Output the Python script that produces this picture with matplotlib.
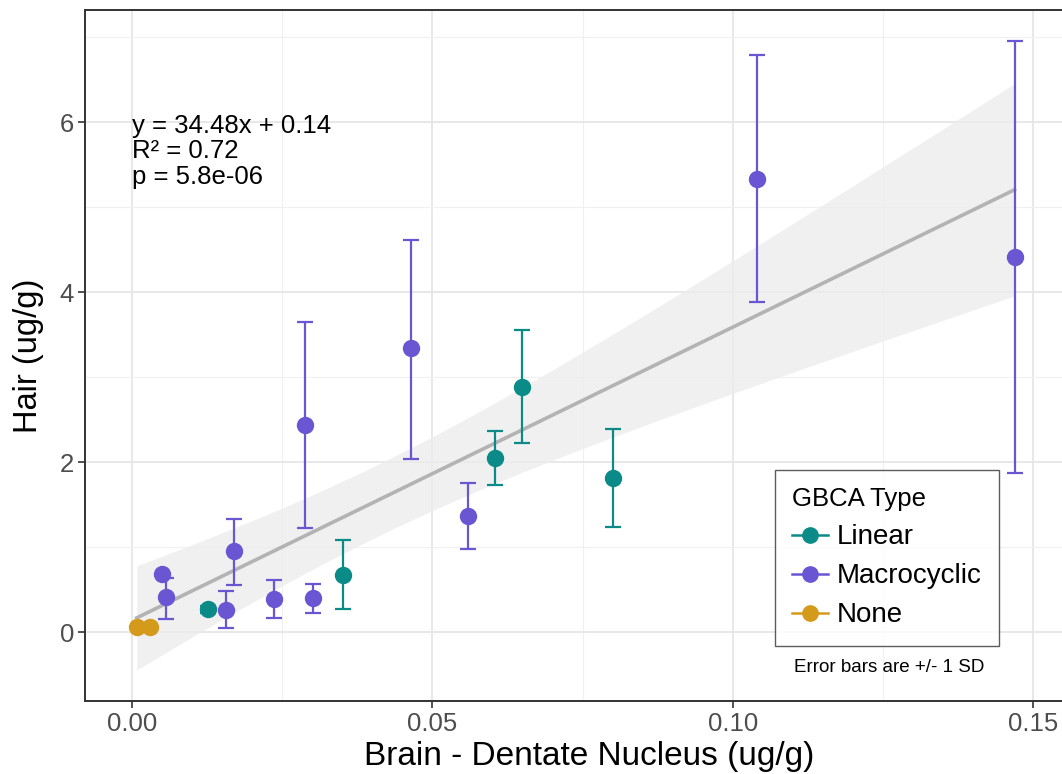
import numpy as np
import matplotlib.pyplot as plt
from matplotlib.lines import Line2D

plt.rcParams['font.family'] = ['Liberation Sans', 'DejaVu Sans']

# GBCA groups: brain (x), hair mean (y), hair error bar ends
linear_x = [0.0126, 0.0351, 0.0605, 0.0650, 0.0800]
linear_y = [0.27, 0.67, 2.05, 2.89, 1.81]
linear_lo = [0.23, 0.27, 1.73, 2.23, 1.24]
linear_hi = [0.31, 1.09, 2.37, 3.55, 2.39]

macro_x = [0.0050, 0.0057, 0.0156, 0.0170, 0.0237, 0.0288, 0.0301, 0.0464, 0.0559, 0.1040, 0.1469]
macro_y = [0.69, 0.41, 0.26, 0.95, 0.39, 2.44, 0.40, 3.34, 1.37, 5.33, 4.41]
macro_lo = [0.69, 0.16, 0.05, 0.56, 0.17, 1.22, 0.22, 2.04, 0.98, 3.88, 1.87]
macro_hi = [0.69, 0.64, 0.49, 1.33, 0.61, 3.65, 0.57, 4.61, 1.75, 6.79, 6.95]

none_x = [0.0008, 0.0030]
none_y = [0.055, 0.06]

colors = {"Linear": "#0b8b88", "Macrocyclic": "#6a55d2", "None": "#d49a1c"}

fig = plt.figure(figsize=(10.62, 7.74), dpi=100)
ax = fig.add_axes([85 / 1062, 73 / 774, 980 / 1062, 691 / 774])

# regression line + 95% CI ribbon
all_x = np.array(linear_x + macro_x + none_x)
all_y = np.array(linear_y + macro_y + none_y)
n = len(all_x)
slope, intercept = 34.48, 0.14
resid = all_y - (slope * all_x + intercept)
s = np.sqrt(np.sum(resid ** 2) / (n - 2))
xs = np.linspace(all_x.min(), all_x.max(), 100)
sxx = np.sum((all_x - all_x.mean()) ** 2)
se = s * np.sqrt(1 / n + (xs - all_x.mean()) ** 2 / sxx)
fit = slope * xs + intercept
ax.fill_between(xs, fit - 2.13 * se, fit + 2.13 * se, color="#ededed", alpha=0.8, lw=0, zorder=1)
ax.plot(xs, fit, color="#b3b3b3", lw=2.6, zorder=2)

def draw(x, y, lo, hi, c):
    x = np.array(x); y = np.array(y)
    err = [y - np.array(lo), np.array(hi) - y]
    ax.errorbar(x, y, yerr=err, fmt="none", ecolor=c, elinewidth=1.6, capsize=5.5, capthick=1.6, zorder=3)

draw(linear_x, linear_y, linear_lo, linear_hi, colors["Linear"])
draw(macro_x, macro_y, macro_lo, macro_hi, colors["Macrocyclic"])
ax.plot(linear_x, linear_y, "o", color=colors["Linear"], ms=11.5, zorder=4)
ax.plot(macro_x, macro_y, "o", color=colors["Macrocyclic"], ms=11.5, zorder=4)
ax.plot(none_x, none_y, "o", color=colors["None"], ms=11.5, zorder=4)

ax.set_xlim(-0.0078, 0.1553)
ax.set_ylim(-0.81, 7.32)
ax.set_xticks([0.0, 0.05, 0.10, 0.15])
ax.set_xticklabels(["0.00", "0.05", "0.10", "0.15"])
ax.set_yticks([0, 2, 4, 6])
ax.set_xticks([0.025, 0.075, 0.125], minor=True)
ax.set_yticks([1, 3, 5, 7], minor=True)
ax.grid(which="major", color="#e6e6e6", lw=1.3, zorder=0)
ax.grid(which="minor", color="#f0f0f0", lw=0.8, zorder=0)
ax.set_axisbelow(True)
ax.tick_params(which="major", length=5, width=1.2, color="#333333", labelsize=18.5, labelcolor="#4d4d4d", pad=3)
ax.tick_params(which="minor", length=0)
for sp in ax.spines.values():
    sp.set_color("#333333")
    sp.set_linewidth(1.4)

ax.set_xlabel("Brain - Dentate Nucleus (ug/g)", fontsize=24)
ax.xaxis.set_label_coords(589 / 1062, 1 - 757 / 774, transform=fig.transFigure)
ax.xaxis.label.set_va("center")
ax.set_ylabel("Hair (ug/g)", fontsize=23.5)
ax.yaxis.set_label_coords(29 / 1062, 1 - 356 / 774, transform=fig.transFigure)
ax.yaxis.label.set_va("center")

ax.text(0.0, 6.1, "y = 34.48x + 0.14\nR² = 0.72\np = 5.8e-06", fontsize=18.5,
        va="top", ha="left", linespacing=1.08, zorder=5)

handles = [Line2D([0], [0], color=colors[k], marker="o", ms=11, lw=1.8) for k in colors]
leg = ax.legend(handles, list(colors), title="GBCA Type", loc="upper left",
                bbox_to_anchor=(775 / 1062, 1 - 470 / 774), bbox_transform=fig.transFigure,
                fontsize=20, title_fontsize=18.5, frameon=True, fancybox=False,
                handlelength=1.3, handletextpad=0.3, borderpad=0.62, labelspacing=0.47,
                borderaxespad=0)
leg.get_frame().set_edgecolor("#333333")
leg.get_frame().set_linewidth(1.0)
leg._legend_box.align = "left"
fig.text(889 / 1062, 1 - 668 / 774, "Error bars are +/- 1 SD", fontsize=13.5, ha="center", va="center")

fig.savefig("out.png", dpi=100)
